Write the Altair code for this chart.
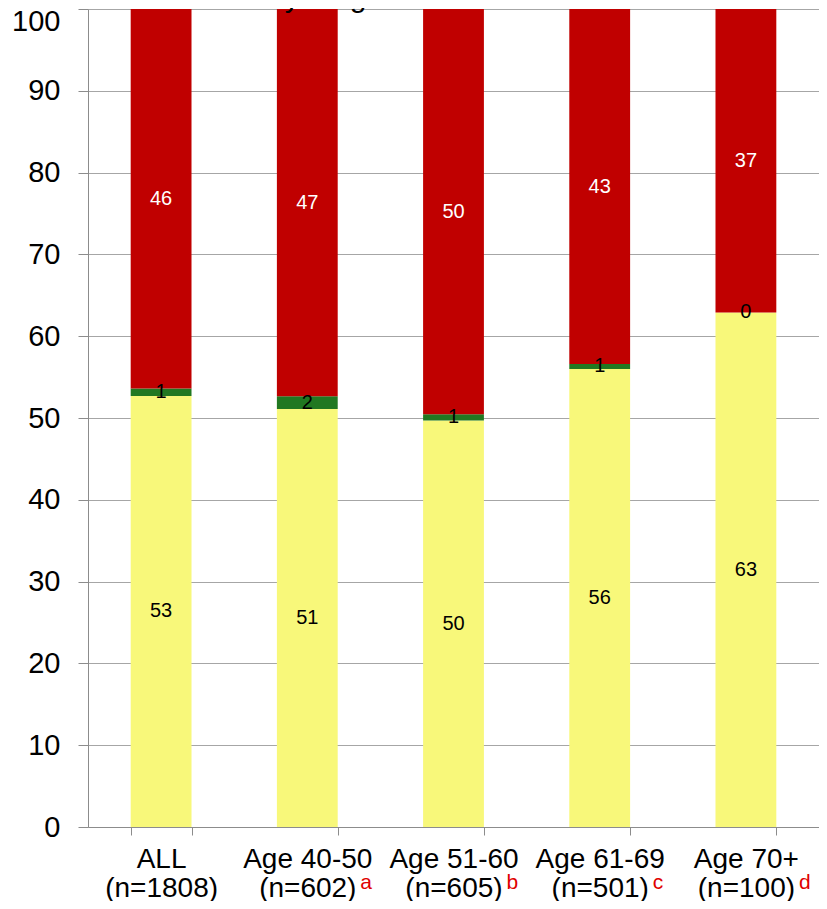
import altair as alt
import pandas as pd

# ---- data ----
categories = ["ALL", "Age 40-50", "Age 51-60", "Age 61-69", "Age 70+"]
n_labels = ["(n=1808)", "(n=602)", "(n=605)", "(n=501)", "(n=100)"]
superscripts = ["", "a", "b", "c", "d"]
yellow_vals = [52.7, 51.1, 49.7, 56.0, 62.9]
green_vals = [0.9, 1.55, 0.75, 0.6, 0.0]
red_vals = [46.4, 47.35, 49.55, 43.4, 37.1]
series = ["Series 1", "Series 2", "Series 3"]
bar_colors = ["#F8F87A", "#217821", "#C00000"]
text_colors = ["#000000", "#000000", "#FFFFFF"]
title_text = "those who are younger?"
y_ticks = list(range(0, 101, 10))

FONT = "Liberation Sans"

cat_keys = [f"{c}|{n}" for c, n in zip(categories, n_labels)]
rows = []
for i, key in enumerate(cat_keys):
    for j, (s, vals) in enumerate(zip(series, [yellow_vals, green_vals, red_vals])):
        rows.append({"cat": key, "series": s, "value": vals[i], "order": j,
                     "tcolor": text_colors[j]})
df = pd.DataFrame(rows)
sup_df = pd.DataFrame({"cat": cat_keys, "sup": superscripts})
title_df = pd.DataFrame({"t": [title_text]})

W, H = 731, 818

x_enc = alt.X(
    "cat:N", sort=cat_keys, title=None,
    scale=alt.Scale(paddingInner=0.584, paddingOuter=0.292),
    axis=alt.Axis(
        labelExpr="split(datum.label, '|')", labelAngle=0, labelFontSize=28,
        labelFont=FONT, labelColor="#000000", labelLineHeight=29,
        labelBaseline="alphabetic", labelPadding=32, tickSize=8, tickBand="extent",
        tickExtra=True, domainColor="#8C8C8C", tickColor="#8C8C8C", grid=False,
    ),
)

y_scale = alt.Scale(domain=[0, 100], nice=False)
y_axis = alt.Axis(
    values=y_ticks, labelFontSize=29, labelFont=FONT, labelColor="#000000",
    tickSize=10, labelPadding=18, gridColor="#A6A6A6", domainColor="#8C8C8C",
    tickColor="#8C8C8C",
    labelOffset={"condition": {"test": "datum.value == 100", "value": 12}, "value": 0},
)

bars = alt.Chart(df).mark_bar().encode(
    x=x_enc,
    y=alt.Y("value:Q", stack="zero", scale=y_scale, axis=y_axis, title=None),
    color=alt.Color("series:N", scale=alt.Scale(domain=series, range=bar_colors), legend=None),
    order=alt.Order("order:Q"),
)

labels = alt.Chart(df).transform_stack(
    stack="value", groupby=["cat"], as_=["v0", "v1"], sort=[alt.SortField("order")]
).transform_calculate(
    mid="(datum.v0 + datum.v1) / 2"
).mark_text(fontSize=20, font=FONT).encode(
    x=alt.X("cat:N", sort=cat_keys),
    y=alt.Y("mid:Q", scale=y_scale),
    text=alt.Text("value:Q", format=".0f"),
    color=alt.Color("tcolor:N", scale=None),
)

sups = alt.Chart(sup_df).mark_text(
    fontSize=21, font=FONT, color="#E00000", dx=53, align="left", baseline="alphabetic"
).encode(
    x=alt.X("cat:N", sort=cat_keys),
    y=alt.value(H + 62),
    text="sup:N",
)

title = alt.Chart(title_df).mark_text(
    fontSize=30, font=FONT, color="#000000", align="left", baseline="alphabetic"
).encode(
    x=alt.value(0), y=alt.value(-2.5), text="t:N",
)

chart = alt.layer(bars, labels, sups, title).properties(
    width=W, height=H,
    autosize=alt.AutoSizeParams(type="none"),
    padding={"left": 80, "top": 1, "right": 0, "bottom": 74},
).configure_view(stroke=None).configure(background="white")

chart.save("out.html", embed_options={"renderer": "svg", "actions": False})
